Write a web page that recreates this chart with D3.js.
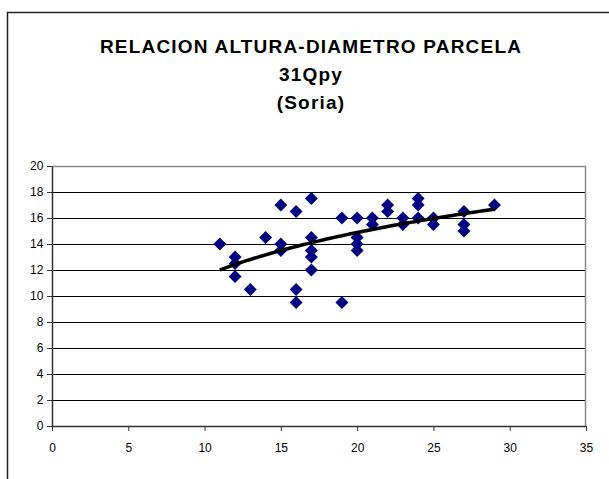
<!DOCTYPE html>
<html>
<head>
<meta charset="utf-8">
<script src="https://cdn.jsdelivr.net/npm/d3@7"></script>
<style>
  body { margin: 0; background: #fff; }
  text { font-family: "Liberation Sans", Arial, sans-serif; }
</style>
</head>
<body>
<div id="chart"></div>
<script>
// diametro (cm)
var diametro = [11, 12, 12, 12, 13, 14, 15, 15, 15, 16, 16, 16,
    17, 17, 17, 17, 17, 19, 19, 20, 20, 20, 20, 21, 21,
    22, 22, 23, 23, 24, 24, 24, 25, 25, 27, 27, 27, 29];
// altura (m)
var altura = [14, 13, 12.5, 11.5, 10.5, 14.5, 17, 14, 13.5, 16.5, 10.5, 9.5,
    17.5, 14.5, 13.5, 13, 12, 16, 9.5, 16, 14.5, 14, 13.5, 16, 15.5,
    17, 16.5, 16, 15.5, 17.5, 17, 16, 16, 15.5, 16.5, 15.5, 15, 17];
var xTicks = [0, 5, 10, 15, 20, 25, 30, 35];
var yTicks = [0, 2, 4, 6, 8, 10, 12, 14, 16, 18, 20];
var titleLines = ["RELACION ALTURA-DIAMETRO PARCELA", "31Qpy", "(Soria)"];

var width = 609, height = 479;
var margin = {top: 166, right: 23, bottom: 53, left: 52},
    w = width - margin.left - margin.right,
    h = height - margin.top - margin.bottom;

var svg = d3.select("#chart")
  .append("svg")
    .attr("width", width)
    .attr("height", height);

// outer chart frame (cut by the picture on right and bottom)
svg.append("rect")
    .attr("x", 7.5).attr("y", 12.5)
    .attr("width", 620).attr("height", 500)
    .attr("fill", "none")
    .attr("stroke", "#222")
    .attr("stroke-width", 1.5);

// title
svg.append("g").selectAll("text")
  .data(titleLines)
  .enter().append("text")
    .attr("x", 311)
    .attr("y", function(d, i) { return 53 + i * 28; })
    .attr("text-anchor", "middle")
    .attr("font-size", "19px")
    .attr("font-weight", "bold")
    .attr("letter-spacing", "1.2px")
    .text(function(d) { return d; });

var g = svg.append("g")
    .attr("transform", "translate(" + margin.left + "," + margin.top + ")");

var x = d3.scaleLinear().domain([0, 35]).range([0, w]);
var y = d3.scaleLinear().domain([0, 20]).range([h, 0]);

// gridlines
g.append("g").selectAll("line")
  .data(yTicks.filter(function(d) { return d > 0 && d < 20; }))
  .enter().append("line")
    .attr("x1", 0).attr("x2", w)
    .attr("y1", function(d) { return Math.round(y(d)) + 0.5; })
    .attr("y2", function(d) { return Math.round(y(d)) + 0.5; })
    .attr("stroke", "#000")
    .attr("stroke-width", 1);

// plot area border top/right (gray)
g.append("path")
    .attr("d", "M0," + 0.5 + "H" + (w - 0.5) + "V" + h)
    .attr("fill", "none")
    .attr("stroke", "#888")
    .attr("stroke-width", 1.5);

// axes
var xAxis = g.append("g")
    .attr("transform", "translate(0," + h + ")")
    .call(d3.axisBottom(x).tickValues(xTicks).tickSize(5).tickSizeOuter(0));
var yAxis = g.append("g")
    .call(d3.axisLeft(y).tickValues(yTicks).tickSize(5).tickSizeOuter(0));

[xAxis, yAxis].forEach(function(a) {
  a.select(".domain").attr("stroke", "#333").attr("stroke-width", 1.5);
  a.selectAll(".tick line").attr("stroke", "#333");
  a.selectAll("text")
    .attr("font-family", "'Liberation Sans', Arial, sans-serif")
    .attr("font-size", "12px")
    .attr("fill", "#000");
});
xAxis.selectAll("text").attr("dy", "1.5em");
yAxis.selectAll("text").attr("dx", "-0.05em");

// points
var pts = diametro.map(function(d, i) { return {d: d, a: altura[i]}; });
g.append("g").selectAll("path")
  .data(pts)
  .enter().append("path")
    .attr("d", d3.symbol().type(d3.symbolSquare).size(84))
    .attr("transform", function(p) {
      return "translate(" + x(p.d) + "," + y(p.a) + ") rotate(45)";
    })
    .attr("fill", "#000080");

// logarithmic trend line fitted to the points
var n = pts.length;
var sl = d3.sum(pts, function(p) { return Math.log(p.d); }),
    sa = d3.sum(pts, function(p) { return p.a; }),
    sll = d3.sum(pts, function(p) { return Math.log(p.d) * Math.log(p.d); }),
    sla = d3.sum(pts, function(p) { return Math.log(p.d) * p.a; });
var b = (n * sla - sl * sa) / (n * sll - sl * sl);
var a0 = (sa - b * sl) / n;
var xs = d3.range(d3.min(diametro), d3.max(diametro) + 0.01, 0.25);
var line = d3.line()
    .x(function(v) { return x(v); })
    .y(function(v) { return y(a0 + b * Math.log(v)); });
g.append("path")
    .datum(xs)
    .attr("d", line)
    .attr("fill", "none")
    .attr("stroke", "#000")
    .attr("stroke-width", 3.5);
</script>
</body>
</html>
